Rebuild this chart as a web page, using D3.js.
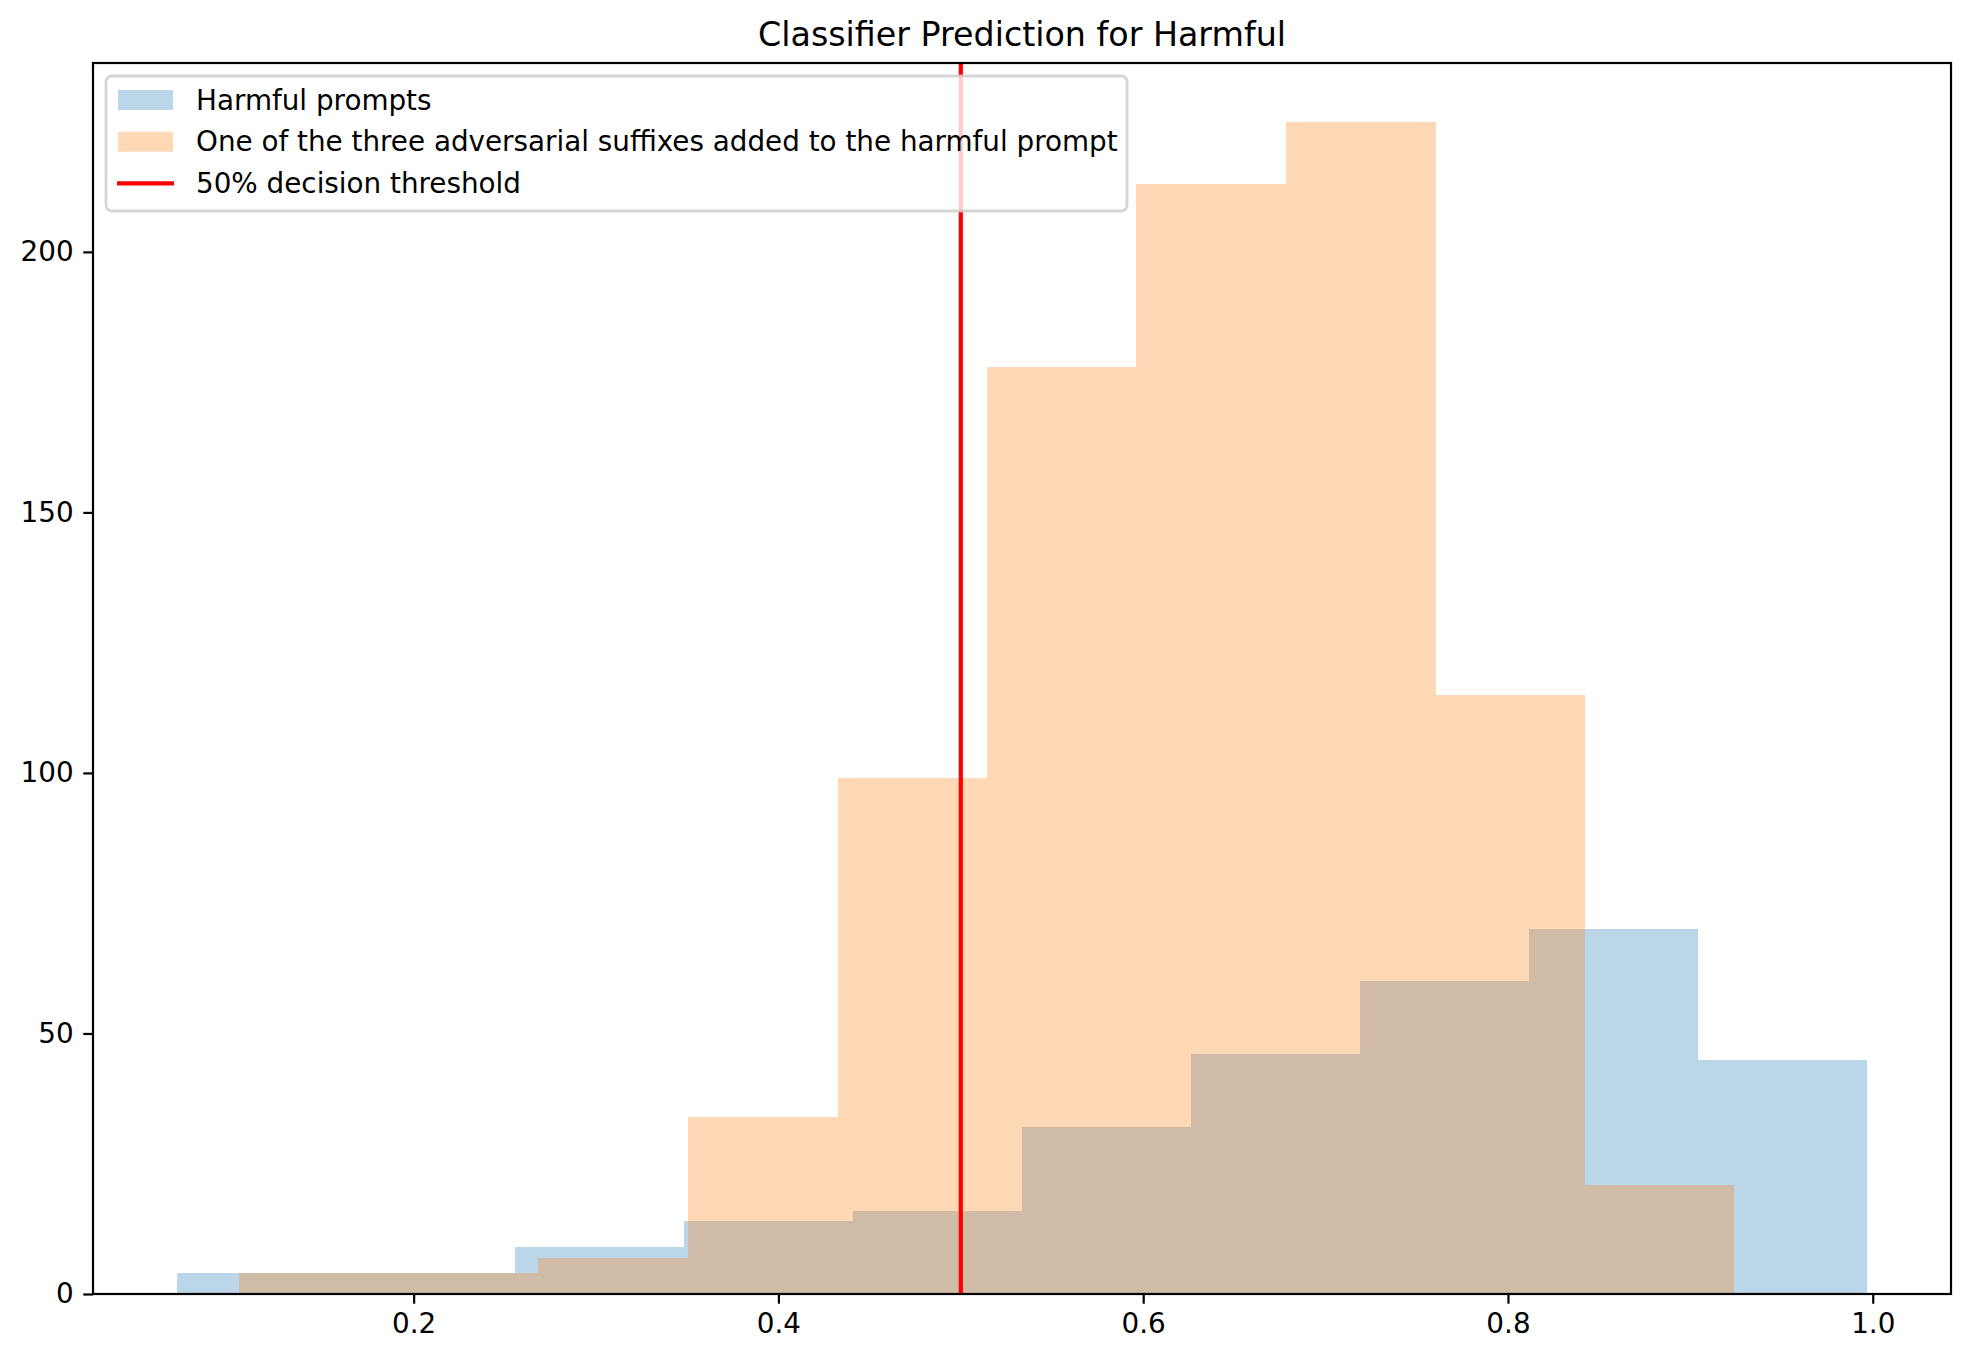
<!DOCTYPE html>
<html>
<head>
<meta charset="utf-8">
<script src="https://cdn.jsdelivr.net/npm/d3@7"></script>
<style>
  body { margin: 0; background: #fff; }
  text { font-family: "DejaVu Sans", sans-serif; fill: #000; }
</style>
</head>
<body>
<div id="chart"></div>
<script>
// histogram bin edges and counts
var harmfulEdges = [0.0705, 0.1631, 0.2557, 0.3483, 0.4410, 0.5336, 0.6262, 0.7188, 0.8114, 0.9040, 0.9966];
var harmfulCounts = [4, 4, 9, 14, 16, 32, 46, 60, 70, 45];

var suffixEdges = [0.1045, 0.1865, 0.2684, 0.3504, 0.4324, 0.5143, 0.5963, 0.6783, 0.7603, 0.8422, 0.9242];
var suffixCounts = [4, 4, 7, 34, 99, 178, 213, 225, 115, 21];

var threshold = 0.5;

var xTicks = [0.2, 0.4, 0.6, 0.8, 1.0];
var yTicks = [0, 50, 100, 150, 200];

var legendLabels = [
  "Harmful prompts",
  "One of the three adversarial suffixes added to the harmful prompt",
  "50% decision threshold"
];

var width = 1972, height = 1362;
var margin = { top: 63, right: 21, bottom: 68, left: 93 };
var fs = 27.8;

var svg = d3.select("#chart").append("svg")
  .attr("width", width)
  .attr("height", height);

function bins(edges, counts) {
  return counts.map(function (c, i) { return { x0: edges[i], x1: edges[i + 1], n: c }; });
}
var harmful = bins(harmfulEdges, harmfulCounts);
var suffix = bins(suffixEdges, suffixCounts);

// matplotlib style 5% margins on x, none below 0 on y
var xmin = d3.min([harmfulEdges[0], suffixEdges[0]]);
var xmax = d3.max([harmfulEdges[harmfulEdges.length - 1], suffixEdges[suffixEdges.length - 1]]);
var pad = (xmax - xmin) * 0.05;
var ymax = d3.max(harmfulCounts.concat(suffixCounts)) * 1.05;

var x = d3.scaleLinear().domain([xmin - pad, xmax + pad]).range([margin.left, width - margin.right]);
var y = d3.scaleLinear().domain([0, ymax]).range([height - margin.bottom, margin.top]);

var plot = svg.append("g");

function drawHist(data, color) {
  plot.append("g").selectAll("rect")
    .data(data)
    .enter().append("rect")
    .attr("x", function (d) { return x(d.x0); })
    .attr("width", function (d) { return x(d.x1) - x(d.x0); })
    .attr("y", function (d) { return y(d.n); })
    .attr("height", function (d) { return y(0) - y(d.n); })
    .attr("fill", color)
    .attr("fill-opacity", 0.3)
    .attr("shape-rendering", "crispEdges");
}
drawHist(harmful, "#1f77b4");
drawHist(suffix, "#ff7f0e");

plot.append("line")
  .attr("x1", x(threshold)).attr("x2", x(threshold))
  .attr("y1", y.range()[0]).attr("y2", y.range()[1])
  .attr("stroke", "red")
  .attr("stroke-width", 4.2);

// axes
var xAxis = svg.append("g")
  .attr("transform", "translate(0," + (height - margin.bottom) + ")")
  .call(d3.axisBottom(x).tickValues(xTicks).tickFormat(d3.format(".1f")).tickSize(9.7).tickPadding(9.7));
var yAxis = svg.append("g")
  .attr("transform", "translate(" + margin.left + ",0)")
  .call(d3.axisLeft(y).tickValues(yTicks).tickFormat(d3.format("d")).tickSize(9.7).tickPadding(9.7));

[xAxis, yAxis].forEach(function (a) {
  a.select(".domain").remove();
  a.selectAll(".tick line").attr("stroke", "#000").attr("stroke-width", 2.2);
  a.selectAll(".tick text").style("font-size", fs + "px").style("font-family", "DejaVu Sans");
});

svg.append("rect")
  .attr("x", margin.left).attr("y", margin.top)
  .attr("width", width - margin.left - margin.right)
  .attr("height", height - margin.top - margin.bottom)
  .attr("fill", "none")
  .attr("stroke", "#000")
  .attr("stroke-width", 2.2);

// title
svg.append("text")
  .attr("x", (margin.left + width - margin.right) / 2)
  .attr("y", 34)
  .attr("dy", "0.35em")
  .attr("text-anchor", "middle")
  .style("font-size", "33.3px")
  .text("Classifier Prediction for Harmful");

// legend
var lg = svg.append("g");
lg.append("rect")
  .attr("x", 106).attr("y", 76)
  .attr("width", 1021).attr("height", 135)
  .attr("rx", 5.6)
  .attr("fill", "#fff").attr("fill-opacity", 0.8)
  .attr("stroke", "#ccc").attr("stroke-opacity", 0.8)
  .attr("stroke-width", 2.8);

var rowY = [100, 141.7, 183.4];
lg.append("rect")
  .attr("x", 118).attr("y", rowY[0] - 10).attr("width", 55).attr("height", 20)
  .attr("fill", "#1f77b4").attr("fill-opacity", 0.3);
lg.append("rect")
  .attr("x", 118).attr("y", rowY[1] - 10).attr("width", 55).attr("height", 20)
  .attr("fill", "#ff7f0e").attr("fill-opacity", 0.3);
lg.append("line")
  .attr("x1", 117).attr("x2", 174)
  .attr("y1", rowY[2]).attr("y2", rowY[2])
  .attr("stroke", "red").attr("stroke-width", 4.2);

lg.selectAll("text.lbl")
  .data(legendLabels)
  .enter().append("text")
  .attr("class", "lbl")
  .attr("x", 196)
  .attr("y", function (d, i) { return rowY[i]; })
  .attr("dy", "0.35em")
  .style("font-size", fs + "px")
  .text(function (d) { return d; });
</script>
</body>
</html>
